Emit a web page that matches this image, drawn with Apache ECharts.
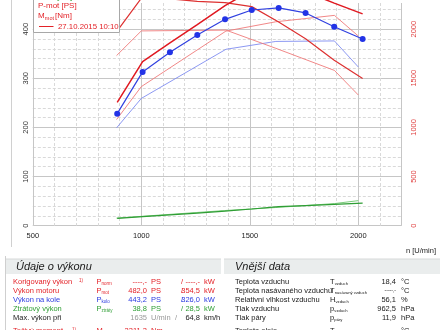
<!DOCTYPE html>
<html><head><meta charset="utf-8">
<script src="https://cdn.jsdelivr.net/npm/echarts@6/dist/echarts.min.js"></script>
<style>html,body{margin:0;padding:0;background:#fff}#c{width:440px;height:330px}</style>
</head><body><div id="c"></div>
<script>
// ---- chart data ----
const rpmRun1   = [889, 1006, 1132, 1258, 1386, 1509, 1633, 1757, 1889, 2020];
const pMotRun1  = [251, 334, 372, 409, 448, 479, 482, 476, 453, 431];
const pKoloRun1 = [228, 313, 353, 388, 420, 439, 443.2, 433, 405, 380];
const mMotRun1  = [1983, 2332, 2308, 2283, 2270, 2229, 2073, 1903, 1684, 1498];
const pZtrRun1  = [15, 18.5, 22, 25.5, 29.5, 34, 38.8, 41, 43.5, 46];
const rpmRun2   = [886, 1000, 1390, 1620, 1890, 2000];
const pMotRun2  = [216, 283, 396, 415, 428, 386];
const pKoloRun2 = [199, 259, 359, 375, 376, 323];
const mMotRun2  = [1731, 1982, 1990, 1805, 1580, 1330];
const pZtrRun2  = [15.5, 19, 31, 37, 45, 51];
const xTickLabels = [500, 1000, 1500, 2000];
const psTickLabels = [0, 100, 200, 300, 400];
const nmTickLabels = [0, 500, 1000, 1500, 2000];
const legendTexts = ['P-ztr [PS]', 'P-mot [PS]', 'M', 'mot', '[Nm]', '27.10.2015 10:10'];

// ---- table texts ----
const perfLabels = ['Korigovaný výkon', 'Výkon motoru', 'Výkon na kole', 'Ztrátový výkon', 'Max. výkon při', 'Točivý moment'];
const perfSym    = ['P', 'P', 'P', 'P', '', 'M'];
const perfSub    = ['norm', 'mot', 'kolo', 'ztráty', '', 'norm'];
const perfVal1   = ['----,-', '482,0', '443,2', '38,8', '1635', '2311,3'];
const perfUnit1  = ['PS', 'PS', 'PS', 'PS', 'U/min', 'Nm'];
const perfVal2   = ['----,-', '354,5', '326,0', '28,5', '64,8', ''];
const perfUnit2  = ['kW', 'kW', 'kW', 'kW', 'km/h', ''];
const envLabels  = ['Teplota vzduchu', 'Teplota nasávaného vzduchu', 'Relativní vlhkost vzduchu', 'Tlak vzduchu', 'Tlak páry', 'Teplota oleje'];
const envSym     = ['T', 'T', 'H', 'p', 'p', 'T'];
const envSub     = ['vzduch', 'nasávaný vzduch', 'vzduch', 'vzduch', 'páry', 'olej'];
const envVal     = ['18,4', '-----,-', '56,1', '962,5', '11,9', '----,-'];
const envUnit    = ['°C', '°C', '%', 'hPa', 'hPa', '°C'];

const zip = (a, b) => a.map((v, i) => [v, b[i]]);
const RED = '#e32228', BLUE = '#2b3be0', GREEN = '#2f9e35';
const FF = '"Liberation Sans", Arial, sans-serif';
const PS_TOP = 453.2;          // value at the top edge of the picture
const NM_TOP = PS_TOP * 5;     // right axis is 5 Nm per PS unit of height

function T(x, y, text, fill, size, align, extra) {
  return Object.assign({
    type: 'text', x: x, y: y, z: 100,
    style: { text: text, fill: fill, font: (size || 7.5) + 'px ' + FF,
      align: align || 'left', verticalAlign: 'middle',
      textAlign: align || 'left', textVerticalAlign: 'middle' }
  }, extra || {});
}

const g = [];
g.push({ type: 'line', z: 1, shape: { x1: 11.5, y1: 0, x2: 11.5, y2: 247 }, style: { stroke: '#d0d0d0', lineWidth: 1 } });
g.push({ type: 'rect', z: 90, shape: { x: 33.5, y: -10, width: 86, height: 42.5 }, style: { fill: '#fff', stroke: '#a8a8a8', lineWidth: 1 } });
g.push(T(38, -3, legendTexts[0], GREEN, 8));
g.push(T(38, 6, legendTexts[1], RED, 8));
g.push(T(38, 16, legendTexts[2], RED, 8));
g.push(T(44.8, 18, legendTexts[3], RED, 5.5));
g.push(T(55, 16, legendTexts[4], RED, 8));
g.push({ type: 'line', z: 100, shape: { x1: 39, y1: 26.5, x2: 53.5, y2: 26.5 }, style: { stroke: RED, lineWidth: 1 } });
g.push(T(58, 26.7, legendTexts[5], RED, 7.8));
g.push(T(406, 251, 'n [U/min]', '#222', 7.5));
g.push({ type: 'line', z: 1, shape: { x1: 5.5, y1: 256, x2: 5.5, y2: 330 }, style: { stroke: '#cfcfcf', lineWidth: 1 } });
g.push({ type: 'rect', z: 1, shape: { x: 6, y: 259, width: 215, height: 15 }, style: { fill: '#eaeded' } });
g.push({ type: 'rect', z: 1, shape: { x: 224, y: 259, width: 216, height: 15 }, style: { fill: '#eaeded' } });
g.push({ type: 'line', z: 2, shape: { x1: 6, y1: 259, x2: 221, y2: 259 }, style: { stroke: '#d6d9d9', lineWidth: 1 } });
g.push({ type: 'line', z: 2, shape: { x1: 224, y1: 259, x2: 440, y2: 259 }, style: { stroke: '#d6d9d9', lineWidth: 1 } });
g.push(T(16, 267, 'Údaje o výkonu', '#1a1a1a', 11));
g[g.length - 1].style.font = 'italic 11px ' + FF;
g.push(T(235, 267, 'Vnější data', '#1a1a1a', 11));
g[g.length - 1].style.font = 'italic 11px ' + FF;

const rowY = [282, 291, 300, 309, 318, 331];
const perfColor = [RED, RED, BLUE, GREEN, '#1a1a1a', RED];
const symW = { P: 5.1, M: 6.3, T: 4.7, H: 5.5, p: 4.3 };
perfLabels.forEach((lab, i) => {
  const y = rowY[i], c = perfColor[i];
  g.push(T(13, y, lab, c));
  if (i === 0 || i === 5) g.push(T(i === 0 ? 79 : 72, y - 1.5, '1)', c, 4.5));
  if (perfSym[i]) {
    g.push(T(96.5, y, perfSym[i], c));
    g.push(T(96.5 + symW[perfSym[i]], y + 2, perfSub[i], c, 4.5));
  }
  const c1 = i === 4 ? '#9a9a9a' : c;
  g.push(T(147, y, perfVal1[i], c1, 7.5, 'right'));
  g.push(T(151, y, perfUnit1[i], c1));
  if (i < 5) g.push(T(i === 4 ? 175 : 181, y, '/', c1));
  g.push(T(200, y, perfVal2[i], c, 7.5, 'right'));
  g.push(T(204, y, perfUnit2[i], c));
});
envLabels.forEach((lab, i) => {
  const y = rowY[i], c = '#1a1a1a';
  g.push(T(235, y, lab, c));
  g.push(T(330, y, envSym[i], c));
  g.push(T(330 + symW[envSym[i]], y + 2, envSub[i], c, 4.2));
  g.push(T(396, y, envVal[i], c, i === 1 ? 5 : 7.5, 'right'));
  g.push(T(401, y, envUnit[i], c));
});

const lineS = (name, xs, ys, color, width, yIdx, z) => ({
  name: name, type: 'line', data: zip(xs, ys), xAxisIndex: 1, yAxisIndex: yIdx || 0,
  showSymbol: false, symbol: 'none', smooth: false, z: z || 2, clip: false,
  lineStyle: { color: color, width: width }, emphasis: { disabled: true }
});
// split line colours: last (extent) line at the top edge is made transparent
const solidCols = psTickLabels.map(() => '#c6c6c6').concat(['rgba(0,0,0,0)']);
const minorCols = [];
for (let v = 0; v < PS_TOP; v += 20) minorCols.push('#d9d9d9');
minorCols.push('rgba(0,0,0,0)');

const option = {
  animation: false,
  grid: { left: 32.8, right: 38.3, top: 0, bottom: 104.3, containLabel: false },
  xAxis: [
    { type: 'value', min: 500, max: 2200, interval: 100, position: 'top',
      axisLine: { show: false }, axisTick: { show: false }, axisLabel: { show: false },
      splitLine: { show: true, lineStyle: { color: '#d9d9d9', width: 1, type: [3, 2] } } },
    { type: 'value', min: 500, max: 2200, interval: 500, position: 'bottom',
      axisLine: { show: false }, axisTick: { show: false },
      axisLabel: { fontSize: 7.5, fontFamily: FF, color: '#222', margin: 6, showMaxLabel: false,
        formatter: v => xTickLabels.indexOf(v) >= 0 ? String(v) : '' },
      splitLine: { show: true, lineStyle: { color: '#c6c6c6', width: 1 } } }
  ],
  yAxis: [
    { type: 'value', min: 0, max: PS_TOP, interval: 20, position: 'left',
      axisLine: { show: false }, axisTick: { show: false }, axisLabel: { show: false },
      splitLine: { show: true, lineStyle: { color: minorCols, width: 1, type: [3, 2] } } },
    { type: 'value', min: 0, max: PS_TOP, interval: 100, position: 'left',
      axisLine: { show: false }, axisTick: { show: false },
      axisLabel: { rotate: 90, fontSize: 7.5, fontFamily: FF, color: '#333', margin: 3,
        formatter: v => psTickLabels.indexOf(v) >= 0 ? String(v) : '' },
      splitLine: { show: true, lineStyle: { color: solidCols, width: 1 } } },
    { type: 'value', min: 0, max: NM_TOP, interval: 500, position: 'right',
      axisLine: { show: false }, axisTick: { show: false },
      axisLabel: { rotate: 90, fontSize: 7.5, fontFamily: FF, color: '#e04040', margin: 8,
        formatter: v => nmTickLabels.indexOf(v) >= 0 ? String(v) : '' },
      splitLine: { show: false } }
  ],
  series: [
    lineS('P-ztr 2', rpmRun2, pZtrRun2, '#7ccc7c', 1, 1),
    lineS('P-ztr 1', rpmRun1, pZtrRun1, '#2f9e35', 1.2, 1),
    lineS('P-kolo 2', rpmRun2, pKoloRun2, '#7f8cf0', 0.9, 1),
    lineS('P-mot 2', rpmRun2, pMotRun2, '#ef7b7b', 0.9, 1),
    lineS('M-mot 2', rpmRun2, mMotRun2, '#ef7b7b', 0.9, 2),
    lineS('M-mot 1', rpmRun1, mMotRun1, '#dd3030', 1.2, 2, 3),
    lineS('P-mot 1', rpmRun1, pMotRun1, '#e01820', 1.5, 1, 3),
    Object.assign(lineS('P-kolo 1', rpmRun1, pKoloRun1, '#3040e0', 1.2, 1, 4), {
      showSymbol: true, symbol: 'circle', symbolSize: 6, itemStyle: { color: '#2233e6' }
    })
  ],
  graphic: { elements: g }
};
const chart = echarts.init(document.getElementById('c'), null, { renderer: 'canvas' });
chart.setOption(option);
</script></body></html>
